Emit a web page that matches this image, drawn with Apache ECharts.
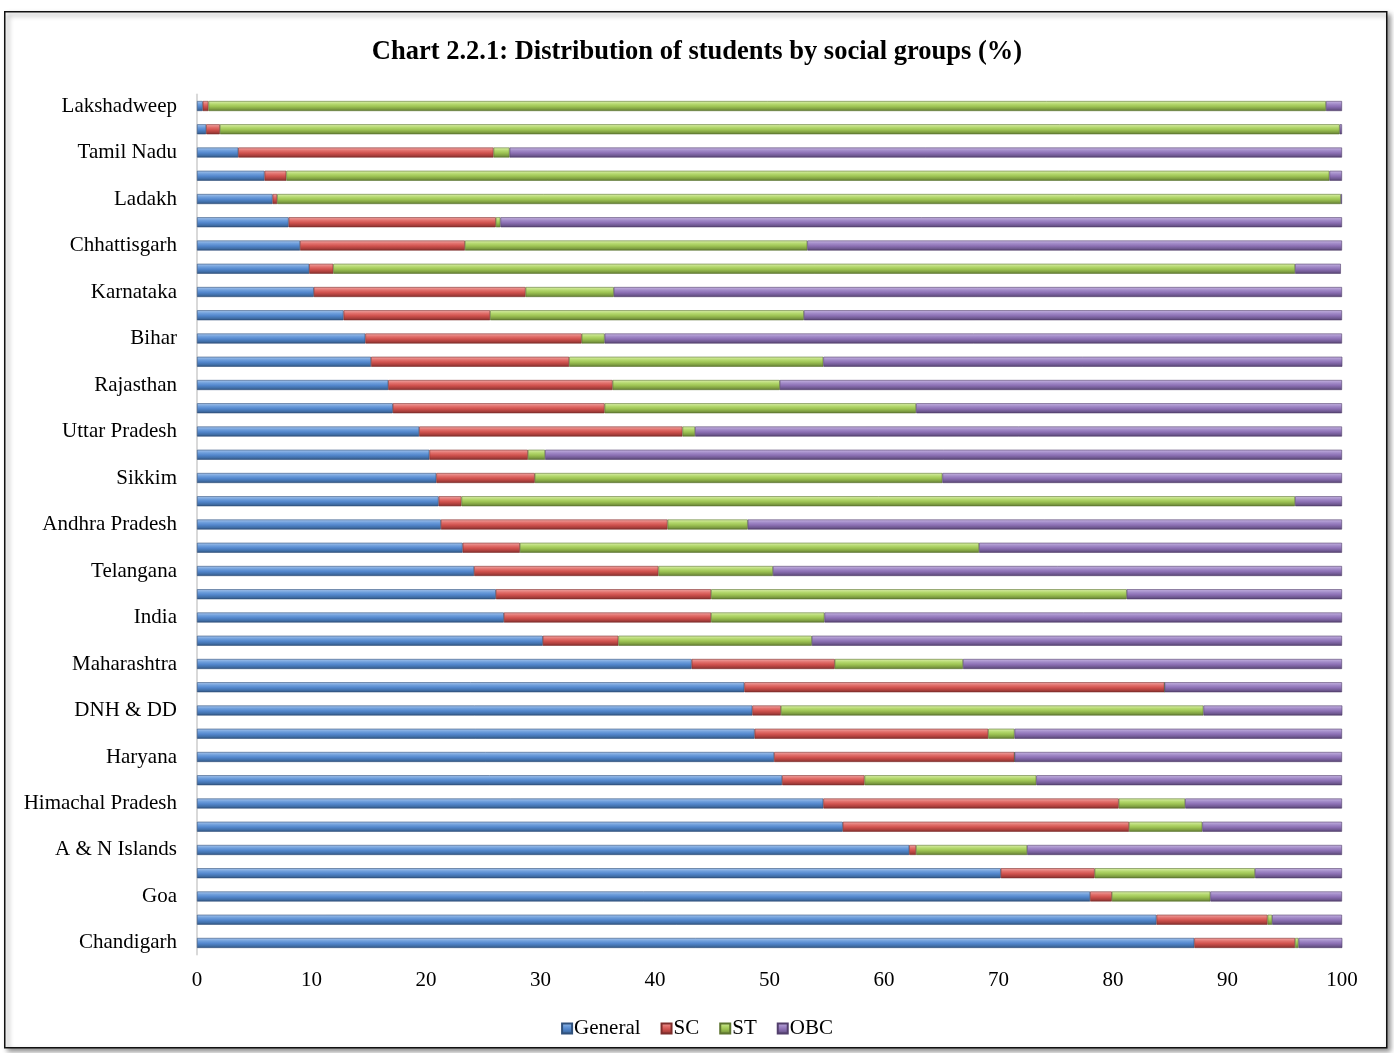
<!DOCTYPE html>
<html>
<head>
<meta charset="utf-8">
<script src="https://cdn.jsdelivr.net/npm/echarts@6/dist/echarts.min.js"></script>
<style>
html,body{margin:0;padding:0;background:#fff;}
#chart{width:1394px;height:1053px;}
</style>
</head>
<body>
<div id="chart"></div>
<script>
// Categories from top to bottom
const categories = [
  'Lakshadweep','Mizoram','Tamil Nadu','Meghalaya','Ladakh','Puducherry','Chhattisgarh','Nagaland',
  'Karnataka','Jharkhand','Bihar','Madhya Pradesh','Rajasthan','Odisha','Uttar Pradesh','Kerala',
  'Sikkim','Arunachal Pradesh','Andhra Pradesh','Manipur','Telangana','Tripura','India','Gujarat',
  'Maharashtra','Punjab','DNH & DD','Uttarakhand','Haryana','Assam','Himachal Pradesh','West Bengal',
  'A & N Islands','Jammu & Kashmir','Goa','Delhi','Chandigarh'
];
const general = [0.5,0.8,3.6,5.9,6.6,8.0,9.0,9.8,10.2,12.8,14.7,15.2,16.7,17.1,19.4,20.3,20.9,21.1,21.3,23.2,24.2,26.1,26.8,30.2,43.2,47.8,48.5,48.7,50.4,51.1,54.7,56.4,62.2,70.2,78.0,83.8,87.1];
const sc      = [0.5,1.2,22.3,1.9,0.4,18.1,14.4,2.1,18.5,12.8,18.9,17.3,19.6,18.5,23.0,8.6,8.6,2.0,19.8,5.0,16.1,18.8,18.1,6.6,12.5,36.7,2.5,20.4,21.0,7.2,25.8,25.0,0.6,8.2,1.9,9.7,8.8];
const st      = [97.6,97.8,1.4,91.1,92.9,0.4,29.9,84.0,7.7,27.4,2.0,22.2,14.6,27.2,1.1,1.5,35.6,72.8,7.0,40.1,10.0,36.3,9.9,16.9,11.2,0,36.9,2.3,0,15.0,5.8,6.4,9.7,14.0,8.6,0.4,0.3];
const obc     = [1.4,0.2,72.7,1.1,0.1,73.5,46.7,4.0,63.6,47.0,64.4,45.4,49.1,37.2,56.5,69.6,34.9,4.1,51.9,31.7,49.7,18.8,45.2,46.3,33.1,15.5,12.2,28.6,28.6,26.7,13.7,12.2,27.5,7.6,11.5,6.1,3.9];
const seriesNames = ['General','SC','ST','OBC'];
const xTicks = [0,10,20,30,40,50,60,70,80,90,100];

const palettes = {
  General: ['#a9c6ec','#6f9fdc','#5286cc','#416fa8','#30517c','#4f81bd'],
  SC:      ['#f0a9a7','#e2716d','#d0524e','#aa3f3c','#7e2e2c','#c0504d'],
  ST:      ['#dcefae','#b5d96f','#9dc353','#7f9f42','#5d7530','#9bbb59'],
  OBC:     ['#c8b6e2','#a28bc8','#8c70b4','#705a92','#523f6c','#8064a2']
};
function grad(p){
  return new echarts.graphic.LinearGradient(0,0,0,1,[
    {offset:0,color:p[0]},{offset:0.3,color:p[1]},{offset:0.55,color:p[2]},
    {offset:0.8,color:p[3]},{offset:1,color:p[4]}
  ]);
}
const dataMap = {General:general, SC:sc, ST:st, OBC:obc};
const serif = '"Liberation Serif","DejaVu Serif",serif';

const chart = echarts.init(document.getElementById('chart'));
chart.setOption({
  animation:false,
  backgroundColor:'#fff',
  title:{
    text:'Chart 2.2.1: Distribution of students by social groups (%)',
    left:'center', top:34,
    textStyle:{fontFamily:serif, fontWeight:'bold', fontSize:26.5, color:'#000'}
  },
  graphic:[{
    type:'rect', left:4, top:11, z:-1, silent:true,
    shape:{width:1382, height:1036},
    style:{fill:'#fff', stroke:'#111', lineWidth:1.5, shadowBlur:5, shadowOffsetX:3, shadowOffsetY:3, shadowColor:'rgba(0,0,0,0.45)'}
  }],
  legend:{
    data:seriesNames, bottom:9, left:'center',
    itemWidth:10, itemHeight:10, itemGap:20, icon:'rect',
    textStyle:{fontFamily:serif, fontSize:21, color:'#000', padding:[0,0,0,-3]}
  },
  grid:{left:197, right:52, top:94.4, bottom:98.4, containLabel:false},
  xAxis:{
    type:'value', min:0, max:100, interval:10,
    axisLine:{show:false}, axisTick:{show:false}, splitLine:{show:false},
    axisLabel:{fontFamily:serif, fontSize:21, color:'#000', margin:15,
      formatter:function(v){ return xTicks.indexOf(v)>=0 ? String(v) : ''; }}
  },
  yAxis:{
    type:'category', data:categories, inverse:true,
    axisLine:{show:true, lineStyle:{color:'#d9d9d9', width:2}},
    axisTick:{show:false},
    axisLabel:{interval:1, fontFamily:serif, fontSize:21, color:'#000', margin:20}
  },
  series:seriesNames.map(function(n){
    return {
      name:n, type:'bar', stack:'total', barWidth:10,
      data:dataMap[n],
      itemStyle:{color:grad(palettes[n]), borderColor:palettes[n][4], borderWidth:0.6},
      emphasis:{disabled:true}
    };
  }),
  color:seriesNames.map(function(n){return palettes[n][5];})
});
</script>
</body>
</html>
